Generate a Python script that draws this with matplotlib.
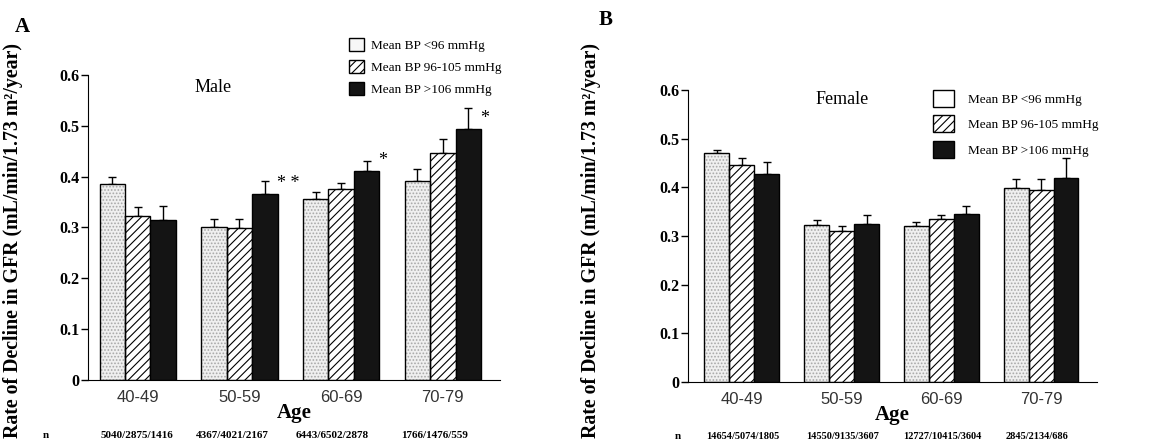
import numpy as np
import matplotlib.pyplot as plt
from matplotlib.patches import Patch

plt.rcParams['font.family'] = ['Liberation Serif', 'DejaVu Serif']
plt.rcParams['hatch.linewidth'] = 0.8

# Data
age_groups = ['40-49', '50-59', '60-69', '70-79']
bp_labels = ['Mean BP <96 mmHg', 'Mean BP 96-105 mmHg', 'Mean BP >106 mmHg']

male_low = [0.386, 0.301, 0.356, 0.391]
male_mid = [0.322, 0.299, 0.375, 0.446]
male_high = [0.314, 0.366, 0.411, 0.494]
male_low_err = [0.014, 0.016, 0.014, 0.024]
male_mid_err = [0.019, 0.018, 0.013, 0.028]
male_high_err = [0.028, 0.025, 0.020, 0.040]
male_n = ['5040/2875/1416', '4367/4021/2167', '6443/6502/2878', '1766/1476/559']

female_low = [0.471, 0.323, 0.320, 0.398]
female_mid = [0.445, 0.311, 0.335, 0.394]
female_high = [0.427, 0.325, 0.344, 0.420]
female_low_err = [0.005, 0.010, 0.008, 0.018]
female_mid_err = [0.016, 0.009, 0.008, 0.022]
female_high_err = [0.024, 0.018, 0.017, 0.040]
female_n = ['14654/5074/1805', '14550/9135/3607', '12727/10415/3604', '2845/2134/686']

# significance marks on the >106 bars (male only)
male_stars = ['', '* *', '*', '*']

ylabel = 'Rate of Decline in GFR (mL/min/1.73 m²/year)'
W = 0.25


def draw_bars(ax, means, errs):
    x = np.arange(len(age_groups))
    offsets = [-W, 0, W]
    for k, (vals, err) in enumerate(zip(means, errs)):
        pos = x + offsets[k]
        if k == 0:
            ax.bar(pos, vals, W, color='#efefef', edgecolor='#a8a8a8',
                   hatch='.....', linewidth=0, zorder=2)
            ax.bar(pos, vals, W, facecolor='none', edgecolor='black',
                   linewidth=1.0, zorder=3)
        elif k == 1:
            ax.bar(pos, vals, W, color='white', edgecolor='black',
                   hatch='////', linewidth=1.0, zorder=2)
        else:
            ax.bar(pos, vals, W, color='#141414', edgecolor='black',
                   linewidth=1.0, zorder=2)
        ax.errorbar(pos, vals, yerr=[np.zeros(len(vals)), err], fmt='none',
                    ecolor='black', elinewidth=1.0, capsize=3, capthick=1.0,
                    zorder=1)


def style_axes(ax, xlim):
    ax.set_xlim(*xlim)
    ax.set_ylim(0, 0.6)
    ax.spines['top'].set_visible(False)
    ax.spines['right'].set_visible(False)
    ax.set_yticks([0, 0.1, 0.2, 0.3, 0.4, 0.5, 0.6])
    ax.set_yticklabels(['0', '0.1', '0.2', '0.3', '0.4', '0.5', '0.6'],
                       fontweight='bold', fontsize=11.5)
    ax.tick_params(axis='y', direction='out', length=5, width=1, pad=1)
    ax.set_xticks(np.arange(len(age_groups)))
    ax.set_xticklabels(age_groups, family='Liberation Sans', fontsize=12,
                       color='#333333')
    ax.tick_params(axis='x', length=0, pad=7)


fig = plt.figure(figsize=(11.57, 4.43), dpi=100)

# Panel A - male
axA = fig.add_axes([0.076, 0.142, 0.356, 0.689])
draw_bars(axA, [male_low, male_mid, male_high],
          [male_low_err, male_mid_err, male_high_err])
style_axes(axA, (-0.49, 3.56))
for i, s in enumerate(male_stars):
    if s:
        axA.text(i + 1.5 * W - 0.01, male_high[i] + 0.02, s, fontsize=13,
                 ha='left', va='center')
axA.text(0.74, 0.575, 'Male', fontsize=13, ha='center', va='center')
axA.set_xlabel('Age', fontweight='bold', fontsize=15, labelpad=-1)
axA.legend([Patch(facecolor='#f7f7f7', edgecolor='black'),
            Patch(facecolor='white', edgecolor='black', hatch='////'),
            Patch(facecolor='#141414', edgecolor='black')],
           bp_labels, loc='upper left', bbox_to_anchor=(0.296, 0.93),
           bbox_transform=fig.transFigure, frameon=False, fontsize=9.5,
           handlelength=1.1, handleheight=1.2, handletextpad=0.6,
           labelspacing=0.6, borderpad=0)

fig.text(0.013, 0.94, 'A', fontsize=15, fontweight='bold', va='center')
fig.text(0.011, 0.456, ylabel, rotation=90, fontsize=14.3, fontweight='bold',
         ha='center', va='center')
fig.text(0.037, 0.018, 'n', fontsize=8, fontweight='bold', va='center')
for xc, s in zip([137, 232, 332, 435], male_n):
    fig.text(xc / 1157, 0.018, s, fontsize=8, fontweight='bold',
             ha='center', va='center')

# Panel B - female
axB = fig.add_axes([0.5946, 0.138, 0.3535, 0.659])
draw_bars(axB, [female_low, female_mid, female_high],
          [female_low_err, female_mid_err, female_high_err])
style_axes(axB, (-0.54, 3.56))
axB.text(1.01, 0.58, 'Female', fontsize=13, ha='center', va='center')
axB.set_xlabel('Age', fontweight='bold', fontsize=15, labelpad=-1)
axB.legend([Patch(facecolor='white', edgecolor='black'),
            Patch(facecolor='white', edgecolor='black', hatch='////'),
            Patch(facecolor='#141414', edgecolor='black')],
           bp_labels, loc='upper left', bbox_to_anchor=(0.801, 0.812),
           bbox_transform=fig.transFigure, frameon=False, fontsize=9.5,
           handlelength=1.6, handleheight=1.6, handletextpad=1.0,
           labelspacing=0.65, borderpad=0)

fig.text(0.517, 0.955, 'B', fontsize=15, fontweight='bold', va='center')
fig.text(0.511, 0.456, ylabel, rotation=90, fontsize=14.3, fontweight='bold',
         ha='center', va='center')
fig.text(0.583, 0.014, 'n', fontsize=8, fontweight='bold', va='center')
for xc, s in zip([743, 843, 942, 1037], female_n):
    fig.text(xc / 1157, 0.014, s, fontsize=7.5, fontweight='bold',
             ha='center', va='center')

fig.savefig('out.png', dpi=100)
